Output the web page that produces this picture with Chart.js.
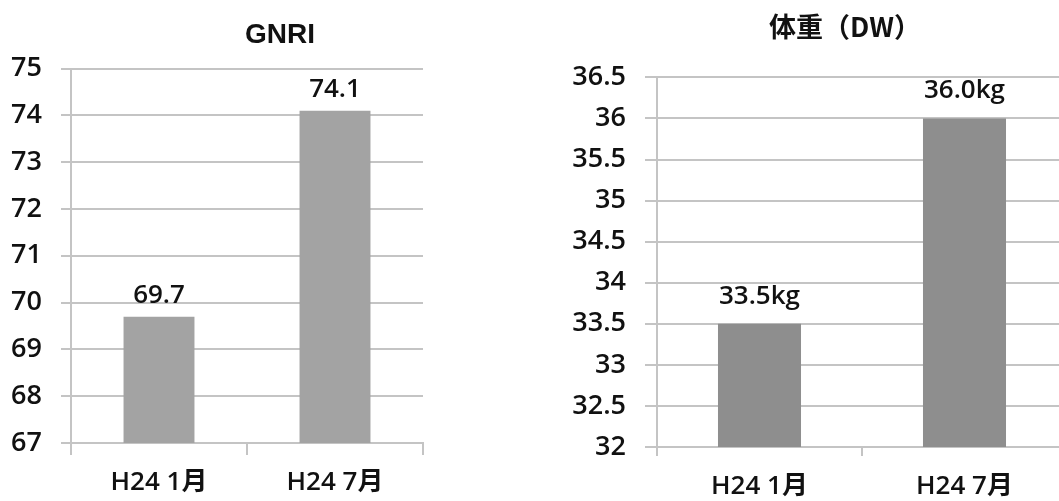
<!DOCTYPE html>
<html>
<head>
<meta charset="utf-8">
<script src="https://cdn.jsdelivr.net/npm/chart.js@4"></script>
<style>
    html, body { margin: 0; padding: 0; background: #fff; overflow: hidden; }
    body { width: 1059px; height: 501px; position: relative; }
    #gnri-chart { position: absolute; left: 0; top: 0; }
    #weight-chart { position: absolute; left: 540px; top: 0; }
</style>
</head>
<body>
<canvas id="gnri-chart" width="560" height="501"></canvas>
<canvas id="weight-chart" width="610" height="501"></canvas>
<script>
// Data
const periods = ['H24 1月', 'H24 7月'];
const gnriValues = [69.7, 74.1];
const weightValues = [33.5, 36.0];
const gnriTicks = { min: 67, max: 75, step: 1 };
const weightTicks = { min: 32, max: 36.5, step: 0.5 };

const FONT = "'Open Sans', 'Noto Sans CJK JP', sans-serif";
const GRID = '#c4c4c4';
const TEXT = '#111';

// Draws the value above each bar, using the bar element positions
const valueLabels = {
    id: 'valueLabels',
    afterDatasetsDraw(chart, args, opts) {
        const ctx = chart.ctx;
        const meta = chart.getDatasetMeta(0);
        const values = chart.data.datasets[0].data;
        ctx.save();
        ctx.font = '600 26px ' + FONT;
        ctx.fillStyle = TEXT;
        ctx.textAlign = 'center';
        ctx.textBaseline = 'alphabetic';
        meta.data.forEach((bar, i) => {
            ctx.fillText(values[i].toFixed(1) + opts.unit, bar.x, bar.y - opts.offset);
        });
        ctx.restore();
    }
};

// Builds one bar chart; the layout numbers place the plot like the reference
function makeChart(canvasId, values, ticks, cfg) {
    return new Chart(document.getElementById(canvasId), {
        type: 'bar',
        data: {
            labels: periods,
            datasets: [{
                data: values,
                backgroundColor: cfg.barColor,
                categoryPercentage: 1,
                barPercentage: cfg.barPct
            }]
        },
        options: {
            responsive: false,
            animation: false,
            layout: { padding: 0 },
            plugins: {
                legend: { display: false },
                tooltip: { enabled: false },
                title: {
                    display: true,
                    text: cfg.title,
                    color: TEXT,
                    font: { family: cfg.titleFont, size: cfg.titleSize, weight: 'bold', lineHeight: 1.2 },
                    padding: { top: cfg.titleTop, bottom: cfg.titleBottom }
                },
                valueLabels: { unit: cfg.unit, offset: cfg.labelOffset }
            },
            scales: {
                x: {
                    grid: {
                        drawOnChartArea: false,
                        color: GRID,
                        lineWidth: 2,
                        tickLength: cfg.xTickLen,
                        offset: true
                    },
                    border: { color: GRID, width: 2 },
                    ticks: {
                        color: TEXT,
                        font: { family: FONT, size: 26, weight: '600' },
                        padding: cfg.xPad,
                        maxRotation: 0
                    },
                    afterFit: (s) => { s.height = cfg.xHeight; }
                },
                y: {
                    min: ticks.min,
                    max: ticks.max,
                    grid: { color: GRID, lineWidth: 2, tickLength: cfg.yTickLen },
                    border: { color: GRID, width: 2 },
                    ticks: {
                        stepSize: ticks.step,
                        color: TEXT,
                        font: { family: FONT, size: 27, weight: '600' },
                        padding: 19,
                        callback: (v) => String(v)
                    },
                    afterFit: (s) => { s.width = cfg.yWidth; }
                },
                // empty spacer on the right so the title sits where it does in the reference
                spacer: {
                    type: 'linear',
                    position: 'right',
                    display: true,
                    grid: { display: false },
                    border: { display: false },
                    ticks: { display: false },
                    afterFit: (s) => { s.width = cfg.spacer; }
                }
            }
        },
        plugins: [valueLabels]
    });
}

makeChart('gnri-chart', gnriValues, gnriTicks, {
    title: 'GNRI',
    titleFont: "'Liberation Sans', Arial, sans-serif",
    titleSize: 28,
    titleTop: 18,
    titleBottom: 17,
    barColor: '#a3a3a3',
    barPct: 0.403,
    unit: '',
    labelOffset: 14,
    yWidth: 71,
    yTickLen: 10,
    xTickLen: 12,
    xPad: 12,
    xHeight: 58,
    spacer: 137
});

makeChart('weight-chart', weightValues, weightTicks, {
    title: '体重（DW）',
    titleFont: "'Noto Sans CJK JP', sans-serif",
    titleSize: 27,
    titleTop: 11,
    titleBottom: 34,
    barColor: '#8e8e8e',
    barPct: 0.405,
    unit: 'kg',
    labelOffset: 20,
    yWidth: 117,
    yTickLen: 12,
    xTickLen: 9,
    xPad: 15,
    xHeight: 54,
    spacer: 83
});
</script>
</body>
</html>
